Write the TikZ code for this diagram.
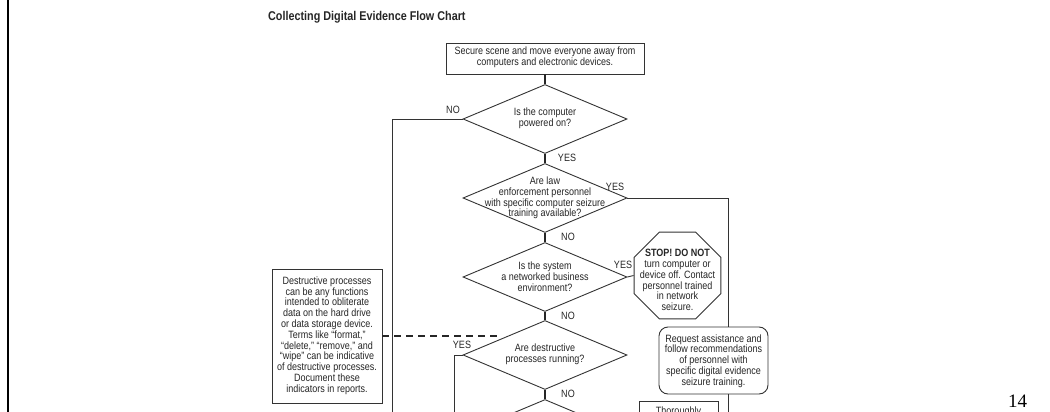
\documentclass[tikz,border=0pt]{standalone}
\usepackage{fontspec}
\setmainfont[FakeStretch=0.85]{Liberation Sans}
\newfontfamily\pagenumfont{Liberation Serif}
\usetikzlibrary{shapes.geometric}

\begin{document}
\begin{tikzpicture}[x=1pt,y=-1pt,
  every node/.style={text=black!85},
  body/.style={font=\fontsize{10.6}{10.8}\selectfont, align=center, inner sep=0pt},
  box/.style={draw=black!80, line width=0.9pt, inner sep=0pt},
  decision/.style={diamond, draw=black!80, line width=0.9pt,
    minimum width=164pt, minimum height=69pt, inner sep=0pt},
  octagon/.style={regular polygon, regular polygon sides=8, draw=black!80,
    line width=0.9pt, minimum size=94pt, inner sep=0pt},
  answer/.style={font=\fontsize{10.6}{10.8}\selectfont, inner sep=0pt},
  link/.style={draw=black!80, line width=0.9pt},
  stem/.style={draw=black!85, line width=1.8pt},
  hint/.style={draw=black!85, line width=1.3pt, dash pattern=on 7pt off 5pt},
  ]
\useasboundingbox (0,0) rectangle (1050,412);
\clip (0,0) rectangle (1050,412);
\fill[white] (0,0) rectangle (1050,412);

% page frame and number
\draw[line width=1.4pt, black] (8,0) -- (8,412);
\node[font=\pagenumfont\fontsize{19}{19}\selectfont, anchor=base west,
  text=black, inner sep=0pt] (pg) at (1008,407) {14};

% heading
\node[anchor=base west, font=\fontsize{12.7}{13}\selectfont\bfseries,
  inner sep=0pt] (title) at (268,20.5) {Collecting Digital Evidence Flow Chart};

% start
\node[box, minimum width=198pt, minimum height=31pt] (start) at (545,58.5) {};
\node[body] (startt) at (545,57) {Secure scene and move everyone away from\\computers and electronic devices.};

% decisions
\node[decision] (d1) at (545,119) {};
\node[body] (d1t) at (545,118) {Is the computer\\powered on?};
\node[decision] (d2) at (545,198) {};
\node[body] (d2t) at (545,198) {Are law\\enforcement personnel\\with specific computer seizure\\training available?};
\node[decision] (d3) at (545,277) {};
\node[body] (d3t) at (545,277) {Is the system\\a networked business\\environment?};
\node[decision] (d4) at (545,355) {};
\node[body] (d4t) at (545,354) {Are destructive\\processes running?};
\node[decision] (d5) at (545,434) {};

% side boxes
\node[octagon] (stop) at (677.5,275.5) {};
\node[body] (stopt) at (677.5,280) {\textbf{STOP! DO NOT}\\turn computer or\\device off. Contact\\personnel trained\\in network\\seizure.};
\node[box, rounded corners=9pt, minimum width=109pt, minimum height=67pt] (req) at (713.5,360.5) {};
\node[body] (reqt) at (713.5,361) {Request assistance and\\follow recommendations\\of personnel with\\specific digital evidence\\seizure training.};
\node[box, minimum width=110pt, minimum height=134pt] (note) at (327,336) {};
\node[body] (notet) at (327,335.5) {Destructive processes\\can be any functions\\intended to obliterate\\data on the hard drive\\or data storage device.\\Terms like ``format,''\\``delete,'' ``remove,'' and\\``wipe'' can be indicative\\of destructive processes.\\Document these\\indicators in reports.};
\node[box, minimum width=79pt, minimum height=40pt] (thor) at (678.5,421) {};
\node[body] (thort) at (678.5,412) {Thoroughly};

% answers
\node[answer] (no1) at (453,110) {NO};
\node[answer] (yes1) at (567,158) {YES};
\node[answer] (yes2) at (615,187) {YES};
\node[answer] (no2) at (568,237) {NO};
\node[answer] (yes3) at (623,265) {YES};
\node[answer] (no3) at (568,316) {NO};
\node[answer] (yes4) at (462,345) {YES};
\node[answer] (no4) at (568,394) {NO};

% connectors
\draw[stem] (start.south) -- (d1.north);
\draw[stem] (d1.south) -- (d2.north);
\draw[stem] (d2.south) -- (d3.north);
\draw[stem] (d3.south) -- (d4.north);
\draw[stem] (d4.south) -- (d5.north);

\coordinate (offL) at (392,412);
\draw[link] (d1.west) -| (offL);
\coordinate (r1) at (728,198);
\coordinate (offR) at (728,412);
\draw[link] (d2.east) -- (r1) -- (r1 |- req.north);
\draw[link] (req.south -| offR) -- (offR);
\draw[link] (d3.east) -- (stop.west);
\coordinate (offY) at (454,412);
\draw[link] (d4.west) -| (offY);
\coordinate (dashend) at (501,336);
\draw[hint] (note.east) -- (dashend);
\end{tikzpicture}
\end{document}
